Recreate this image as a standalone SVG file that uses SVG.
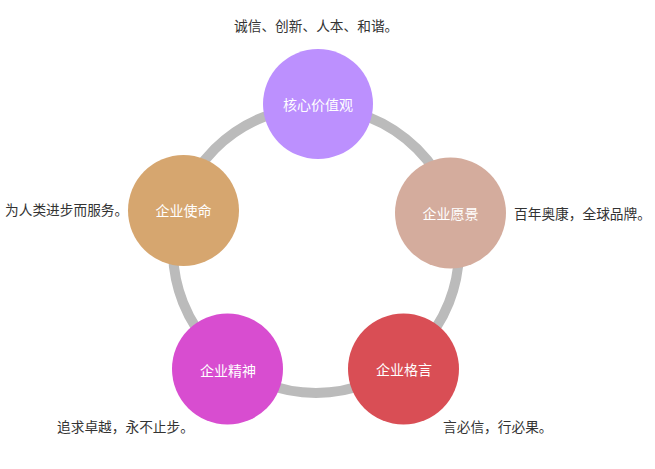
<svg xmlns="http://www.w3.org/2000/svg" width="655" height="469" viewBox="0 0 655 469">
<style>
.node-label{font-family:"Noto Sans CJK SC","Liberation Sans",sans-serif;font-size:14px;fill:#ffffff;text-anchor:middle;dominant-baseline:central}
.desc{font-family:"Noto Sans CJK SC","Liberation Sans",sans-serif;font-size:13.7px;fill:#333333;dominant-baseline:central}
.ring{fill:none;stroke:#bbbbbb;stroke-width:10}
</style>
<rect width="655" height="469" fill="#ffffff"/>
<g id="connectors">
<circle class="ring" cx="316" cy="250" r="143"/>
</g>
<g id="node-core">
<circle cx="318" cy="104" r="55" fill="#bc90fe"/>
<text class="node-label" x="318" y="104">核心价值观</text>
<text class="desc" x="234" y="25">诚信、创新、人本、和谐。</text>
</g>
<g id="node-mission">
<circle cx="183.5" cy="210.5" r="55.5" fill="#d6a66f"/>
<text class="node-label" x="183.5" y="210">企业使命</text>
<text class="desc" x="5" y="209">为人类进步而服务。</text>
</g>
<g id="node-vision">
<circle cx="450.5" cy="213" r="55.5" fill="#d4ac9d"/>
<text class="node-label" x="450.5" y="213">企业愿景</text>
<text class="desc" x="514" y="213">百年奥康，全球品牌。</text>
</g>
<g id="node-spirit">
<circle cx="227.5" cy="369" r="55.5" fill="#d84dd0"/>
<text class="node-label" x="228" y="370">企业精神</text>
<text class="desc" x="57" y="426">追求卓越，永不止步。</text>
</g>
<g id="node-motto">
<circle cx="403.5" cy="369" r="55.5" fill="#d94e55"/>
<text class="node-label" x="404" y="369">企业格言</text>
<text class="desc" x="443" y="426">言必信，行必果。</text>
</g>
</svg>
